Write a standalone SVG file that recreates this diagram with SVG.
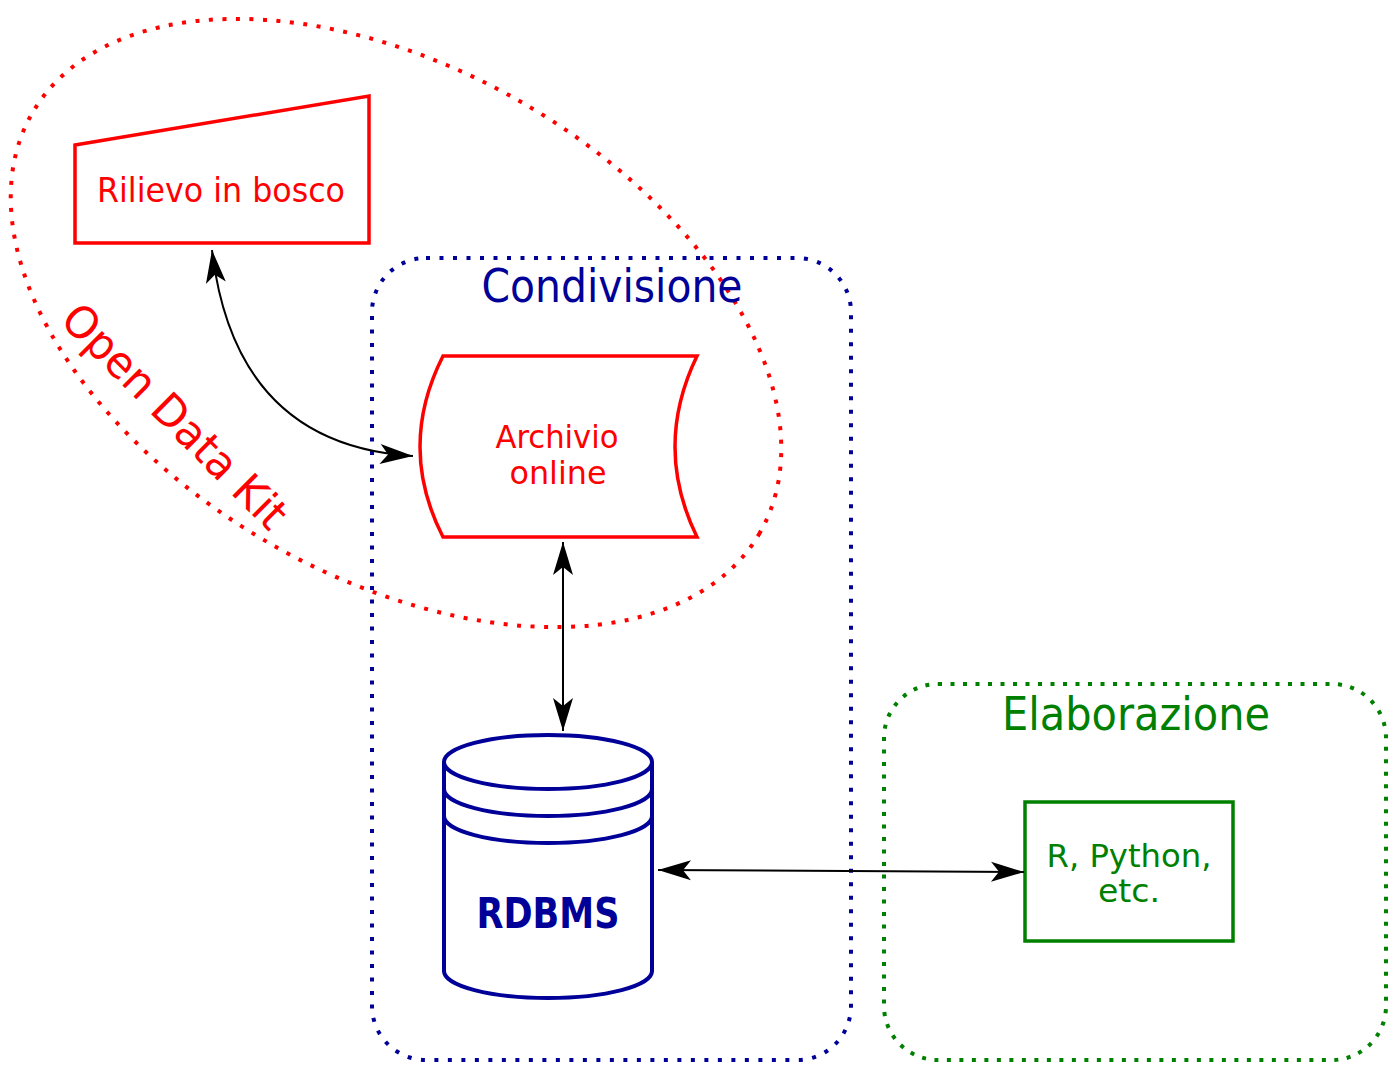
<svg xmlns="http://www.w3.org/2000/svg" width="1388" height="1066" viewBox="0 0 1388 1066">
<style>
text{font-family:"DejaVu Sans","Liberation Sans",sans-serif;font-stretch:condensed;text-anchor:middle}
.red{fill:#FF0000}
.blue{fill:#000099}
.green{fill:#008000}
.conn{fill:none;stroke:#000;stroke-width:2}
</style>
<defs>
<marker id="ah" markerUnits="userSpaceOnUse" markerWidth="40" markerHeight="24" viewBox="-36 -12 38 24" refX="0" refY="0" orient="auto-start-reverse">
<path d="M0,0 L-33,-10 L-25,0 L-33,10 Z" fill="#000"/>
</marker>
</defs>
<rect width="1388" height="1066" fill="#fff"/>
<g id="grp-odk">
<ellipse cx="396" cy="323" rx="420" ry="254" transform="rotate(30 396 323)" fill="none" stroke="#FF0000" stroke-width="4" stroke-dasharray="4 9.5"/>
<text class="red" x="164" y="427" font-size="44" textLength="298" lengthAdjust="spacingAndGlyphs" transform="rotate(45 164 427)">Open Data Kit</text>
</g>
<g id="grp-condivisione">
<rect x="372" y="258" width="479" height="802" rx="54" ry="54" fill="none" stroke="#000099" stroke-width="4" stroke-dasharray="4 9.5"/>
<text class="blue" x="612" y="302" font-size="46" textLength="261" lengthAdjust="spacingAndGlyphs">Condivisione</text>
</g>
<g id="grp-elaborazione">
<rect x="884" y="684" width="502" height="376" rx="54" ry="54" fill="none" stroke="#008000" stroke-width="4" stroke-dasharray="4 8.5"/>
<text class="green" x="1136" y="730" font-size="46" textLength="268" lengthAdjust="spacingAndGlyphs">Elaborazione</text>
</g>
<g id="node-rilievo">
<path d="M75,145 L369,96 L369,243 L75,243 Z" fill="#fff" stroke="#FF0000" stroke-width="3.5"/>
<text class="red" x="221" y="202" font-size="33" textLength="248" lengthAdjust="spacingAndGlyphs">Rilievo in bosco</text>
</g>
<g id="node-archivio">
<path d="M443,356 L697,356 Q653,447 697,537 L443,537 Q397,447 443,356 Z" fill="#fff" stroke="#FF0000" stroke-width="3.5"/>
<text class="red" x="557" y="448" font-size="32" textLength="123" lengthAdjust="spacingAndGlyphs">Archivio</text>
<text class="red" x="558" y="484" font-size="32" textLength="97" lengthAdjust="spacingAndGlyphs">online</text>
</g>
<g id="node-rdbms" fill="none" stroke="#000099" stroke-width="4">
<path d="M444,762 L444,971 A104,27 0 0 0 652,971 L652,762" fill="#fff"/>
<ellipse cx="548" cy="762" rx="104" ry="27" fill="#fff"/>
<path d="M444,789 A104,27 0 0 0 652,789"/>
<path d="M444,816 A104,27 0 0 0 652,816"/>
<text class="blue" x="548" y="928" font-size="42" font-weight="bold" stroke="none" textLength="143" lengthAdjust="spacingAndGlyphs">RDBMS</text>
</g>
<g id="node-r">
<rect x="1025" y="802" width="208" height="139" fill="#fff" stroke="#008000" stroke-width="3.5"/>
<text class="green" x="1129" y="867" font-size="32" textLength="165" lengthAdjust="spacingAndGlyphs">R, Python,</text>
<text class="green" x="1129" y="902" font-size="32" textLength="62" lengthAdjust="spacingAndGlyphs">etc.</text>
</g>
<g id="connectors">
<path class="conn" d="M212,250 Q235,445 413,456" marker-start="url(#ah)" marker-end="url(#ah)"/>
<path class="conn" d="M563,542 L563,731" marker-start="url(#ah)" marker-end="url(#ah)"/>
<path class="conn" d="M658,870 L1024,872" marker-start="url(#ah)" marker-end="url(#ah)"/>
</g>
</svg>
